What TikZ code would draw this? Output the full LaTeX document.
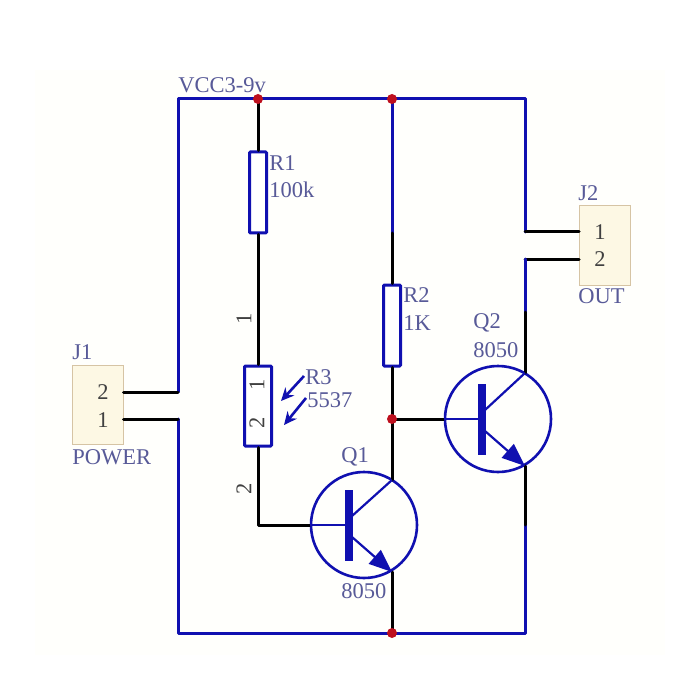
\documentclass[tikz,border=0pt]{standalone}
\usepackage{tikz, xcolor}
\usepackage{fontspec}
\setmainfont{Liberation Serif}
\usetikzlibrary{shapes,arrows.meta}
\definecolor{wireblue}{RGB}{16,16,176}
\definecolor{textblue}{RGB}{88,90,152}
\definecolor{dotred}{RGB}{190,16,30}
\definecolor{padfill}{RGB}{253,248,228}
\definecolor{padline}{RGB}{214,196,164}

\begin{document}
\begin{tikzpicture}[x=1pt, y=-1pt, thick]
\tikzstyle{wireb}=[draw=wireblue, line width=3pt, line join=round, line cap=round]
\tikzstyle{wirek}=[draw=black, line width=3pt, line join=round, line cap=round]
\tikzstyle{lead}=[draw=wireblue, line width=2.2pt]
\tikzstyle{resbox}=[rectangle, draw=wireblue, line width=3pt, fill=white, rounded corners=1pt, inner sep=0pt]
\tikzstyle{padbox}=[rectangle, draw=padline, line width=1pt, fill=padfill, minimum width=51pt, minimum height=79pt, inner sep=0pt]
\tikzstyle{dotr}=[circle, fill=dotred, minimum size=10pt, inner sep=0pt]
\tikzstyle{qcirc}=[circle, draw=wireblue, line width=2.6pt, minimum size=106pt, inner sep=0pt]
\tikzstyle{qbar}=[rectangle, fill=wireblue, minimum width=7.5pt, minimum height=71pt, inner sep=0pt]
\tikzstyle{txt}=[text=textblue, font=\fontsize{22.5}{24}\selectfont, inner sep=0pt, anchor=west]
\tikzstyle{pin}=[text=black!75, font=\fontsize{22.5}{24}\selectfont, inner sep=0pt]
\tikzstyle{emit}=[lead, -{Triangle[length=23pt, width=18pt]}]
\tikzstyle{photo}=[lead, line width=2.6pt, -{Stealth[length=13pt, width=12pt]}]

\useasboundingbox (0,0) rectangle (700,700);
\fill[white] (0,0) rectangle (700,700);
\fill[white!99!yellow] (35,70) rectangle (665,655);

% junctions and corners
\coordinate (G0x0) at (178,99);
\coordinate (G4x0) at (525,99);
\coordinate (G0x1) at (178,392);
\coordinate (G0x2) at (178,419);
\coordinate (G0x3) at (178,633);
\coordinate (G4x3) at (525,633);
\coordinate (G4x1) at (525,232);
\coordinate (G4x2) at (525,259);
\coordinate (G4x5) at (525,312);
\coordinate (G4x4) at (525,525);
\coordinate (G2x1) at (258,525);
\coordinate (G3x1) at (392,233);
\coordinate (G1x0) at (258,99);
\coordinate (G3x0) at (392,99);
\coordinate (G3x2) at (392,419);
\coordinate (G3x3) at (392,633);

% connectors J1 and J2
\node[padbox] (J1) at (97.5,405) {};
\node[padbox] (J2) at (605,245.5) {};
\coordinate (J1p2) at (J1.east |- G0x1);
\coordinate (J1p1) at (J1.east |- G0x2);
\coordinate (J2p1) at (J2.west |- G4x1);
\coordinate (J2p2) at (J2.west |- G4x2);
\node[pin] (J1n2) at (103,392) {2};
\node[pin] (J1n1) at (103,420) {1};
\node[pin] (J2n1) at (600,232) {1};
\node[pin] (J2n2) at (600,259) {2};

% resistors
\node[resbox, minimum width=17pt, minimum height=81pt] (R1) at (258,192.5) {};
\node[resbox, minimum width=17pt, minimum height=81pt] (R2) at (392,325.5) {};
\node[resbox, minimum width=27pt, minimum height=80pt] (R3) at (258,406) {};
\node[pin, rotate=90] (R3n1) at (257,385) {1};
\node[pin, rotate=90] (R3n2) at (257,423) {2};
\node[pin, rotate=90] (R3o1) at (244,319) {1};
\node[pin, rotate=90] (R3o2) at (244,489) {2};

% transistors
\node[qcirc] (Q1) at (364,525) {};
\node[qbar] (Q1b) at (349,525) {};
\coordinate (Q1c) at (392,480);
\coordinate (Q1e) at (392,572);
\coordinate (Q1x) at (352,516);
\coordinate (Q1y) at (352,537);
\node[qcirc] (Q2) at (498,419) {};
\node[qbar] (Q2b) at (482,419) {};
\coordinate (Q2c) at (525,373);
\coordinate (Q2e) at (525,466);
\coordinate (Q2x) at (485,410);
\coordinate (Q2y) at (485,431);

% wires
\draw[wireb] (G0x1) -- (G0x0) -- (G4x0) -- (G4x1);
\draw[wirek] (J1p2) -- (G0x1);
\draw[wirek] (G4x1) -- (J2p1);
\draw[wirek] (J2p2) -- (G4x2);
\draw[wireb] (G4x2) -- (G4x5);
\draw[wirek] (G4x5) -- (Q2c);
\draw[wireb] (G0x2) -- (G0x3) -- (G4x3) -- (G4x4);
\draw[wirek] (J1p1) -- (G0x2);
\draw[wirek] (G4x4) -- (Q2e);
\draw[wirek] (G1x0) -- (R1.north);
\draw[wirek] (R1.south) -- (R3.north);
\draw[wirek] (R3.south) -- (G2x1) -- (Q1.west);
\draw[wireb] (G3x0) -- (G3x1);
\draw[wirek] (G3x1) -- (R2.north);
\draw[wirek] (R2.south) -- (G3x2);
\draw[wirek] (G3x2) -- (Q1c);
\draw[wirek] (G3x2) -- (Q2.west);
\draw[wirek] (Q1e) -- (G3x3);

% transistor leads
\draw[lead] (Q1.west) -- (Q1b);
\draw[lead] (Q1x) -- (Q1c);
\draw[emit] (Q1y) -- (Q1e);
\draw[lead] (Q2.west) -- (Q2b);
\draw[lead] (Q2x) -- (Q2c);
\draw[emit] (Q2y) -- (Q2e);

% light arrows at R3
\coordinate (A1s) at (304,376);
\coordinate (A1e) at (281,401);
\coordinate (A2s) at (306,398);
\coordinate (A2e) at (284,425);
\draw[photo] (A1s) -- (A1e);
\draw[photo] (A2s) -- (A2e);

% dots
\node[dotr] (D1) at (G1x0) {};
\node[dotr] (D2) at (G3x0) {};
\node[dotr] (D3) at (G3x2) {};
\node[dotr] (D4) at (G3x3) {};

% labels
\node[txt] (Lvcc) at (178,85) {VCC3-9v};
\node[txt] (LR1) at (269,163) {R1};
\node[txt] (LR1v) at (269,190) {100k};
\node[txt] (LR2) at (403,295) {R2};
\node[txt] (LR2v) at (403,323) {1K};
\node[txt] (LR3) at (305,377) {R3};
\node[txt] (LR3v) at (307,400) {5537};
\node[txt] (LJ1) at (72,352) {J1};
\node[txt] (LJ1v) at (72,457) {POWER};
\node[txt] (LJ2) at (578,193) {J2};
\node[txt] (LJ2v) at (578,296) {OUT};
\node[txt] (LQ1) at (341,457) {Q1};
\node[txt] (LQ1v) at (341,591) {8050};
\node[txt] (LQ2) at (473,323) {Q2};
\node[txt] (LQ2v) at (473,350) {8050};
\end{tikzpicture}
\end{document}
